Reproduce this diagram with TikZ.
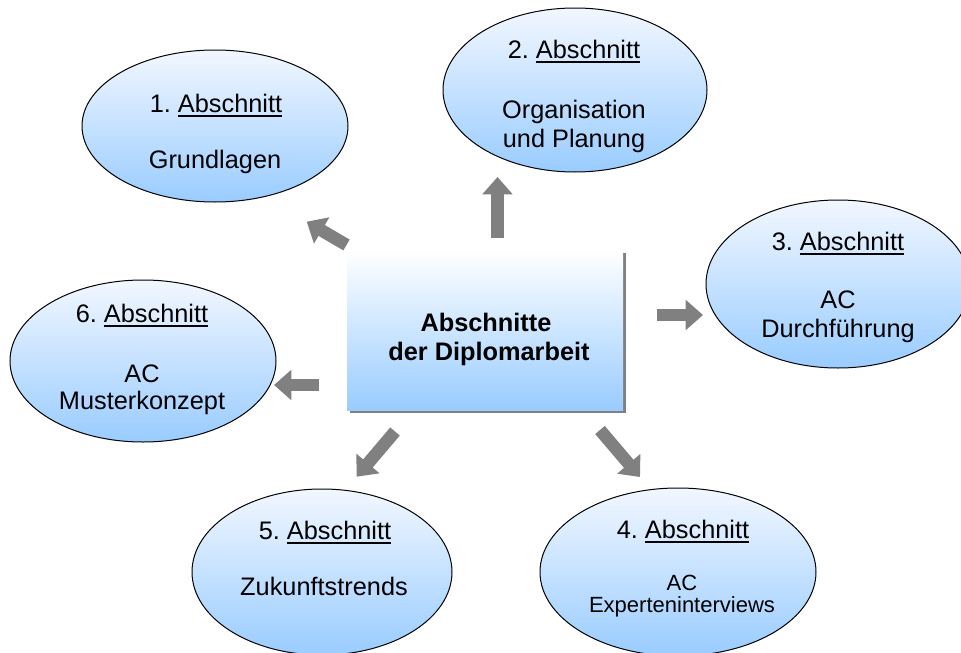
\documentclass[tikz,border=0pt]{standalone}
\usepackage{fontspec}
\setmainfont{Liberation Sans}
\usetikzlibrary{shapes.geometric,arrows.meta,shadows}
\definecolor{elltop}{RGB}{242,247,255}
\definecolor{ellbot}{RGB}{153,204,255}
\definecolor{boxbot}{RGB}{153,204,255}
\definecolor{arrowgray}{RGB}{128,128,128}
\definecolor{shadowgray}{RGB}{128,128,128}
\newcommand{\myul}[1]{{\setbox0\hbox{#1}\rlap{\rule[-3.6pt]{\wd0}{1.1pt}}\box0}}
\newcommand{\abs}[1]{#1.\ \myul{Abschnitt}}
\tikzset{
  sect/.style={ellipse, draw=black, line width=0.75pt, inner sep=0pt, outer sep=0pt,
    top color=elltop, bottom color=ellbot},
  mainbox/.style={rectangle, inner sep=0pt, outer sep=0pt, top color=white, bottom color=boxbot,
    minimum width=207pt, minimum height=120pt,
    general shadow={fill=shadowgray, shadow xshift=2.25pt, shadow yshift=-2.25pt}},
  lbl/.style={anchor=base, inner sep=0pt, font=\fontsize{19}{22}\selectfont},
  lblsmall/.style={anchor=base, inner sep=0pt, font=\fontsize{16.5}{20}\selectfont},
  lblbold/.style={anchor=base, inner sep=0pt, font=\fontsize{19}{22}\selectfont\bfseries},
  blockarrow/.style={draw=arrowgray, line width=9.4pt, -{Triangle[width=22pt,length=13pt]}}
}
\begin{document}
\frenchspacing
\begin{tikzpicture}[x=0.75pt,y=-0.75pt]
\useasboundingbox (0,0) rectangle (961,653);
\clip (0,0) rectangle (961,653);
\fill[white] (0,0) rectangle (961,653);

% ellipses
\node[sect, minimum width=199.5pt, minimum height=114pt] (e1) at (215,126) {};
\node[sect, minimum width=198pt, minimum height=123pt] (e2) at (575,90) {};
\node[sect, minimum width=198pt, minimum height=126pt] (e3) at (838,284) {};
\node[sect, minimum width=207pt, minimum height=126pt] (e4) at (678,572) {};
\node[sect, minimum width=195pt, minimum height=124.5pt] (e5) at (322,572) {};
\node[sect, minimum width=199.5pt, minimum height=121.5pt] (e6) at (143,361) {};

% central box
\node[mainbox] (c) at (485,330) {};

% texts
\node[lblbold] (ct1) at (486,331) {Abschnitte};
\node[lblbold] (ct2) at (489,360) {der Diplomarbeit};

\node[lbl] (t1a) at (216,112) {\abs{1}};
\node[lbl] (t1b) at (215,168) {Grundlagen};

\node[lbl] (t2a) at (574,58) {\abs{2}};
\node[lbl] (t2b) at (574,118) {Organisation};
\node[lbl] (t2c) at (574,147) {und Planung};

\node[lbl] (t3a) at (838,250) {\abs{3}};
\node[lbl] (t3b) at (838,308) {AC};
\node[lbl] (t3c) at (838,337) {Durchführung};

\node[lbl] (t4a) at (683,538) {\abs{4}};
\node[lblsmall] (t4b) at (682,590) {AC};
\node[lblsmall] (t4c) at (682,612) {Experteninterviews};

\node[lbl] (t5a) at (325,539) {\abs{5}};
\node[lbl] (t5b) at (324,595) {Zukunftstrends};

\node[lbl] (t6a) at (142,322) {\abs{6}};
\node[lbl] (t6b) at (142,382) {AC};
\node[lbl] (t6c) at (142,409) {Musterkonzept};

% arrow end points
\coordinate (a1s) at (346.5,245);   \coordinate (a1e) at (306.7,221.7);
\coordinate (a2s) at (497.5,238);   \coordinate (a2e) at (497.5,177);
\coordinate (a3s) at (657,315);     \coordinate (a3e) at (703,315);
\coordinate (a4s) at (600,430);     \coordinate (a4e) at (640,477);
\coordinate (a5s) at (395,431.5);   \coordinate (a5e) at (356.7,476.7);
\coordinate (a6s) at (319,385);     \coordinate (a6e) at (274,385);

\draw[blockarrow] (a1s) -- (a1e);
\draw[blockarrow] (a2s) -- (a2e);
\draw[blockarrow] (a3s) -- (a3e);
\draw[blockarrow] (a4s) -- (a4e);
\draw[blockarrow] (a5s) -- (a5e);
\draw[blockarrow] (a6s) -- (a6e);
\end{tikzpicture}
\end{document}
